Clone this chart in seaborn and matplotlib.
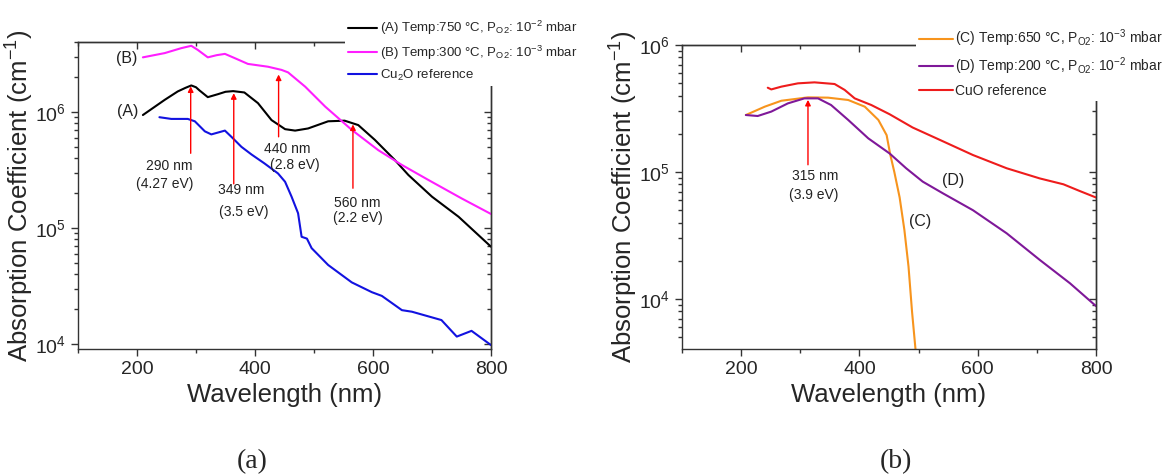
import numpy as np
import matplotlib
matplotlib.use("Agg")
import matplotlib.pyplot as plt
import seaborn as sns
from matplotlib.ticker import MultipleLocator, LogLocator, NullFormatter

# ---- panel (a): Cu2O films ----
wl_a = [210, 247, 269, 282, 292, 300, 306, 320, 337, 350, 363, 382, 405, 428, 451,
        468, 490, 524, 552, 575, 603, 637, 660, 700, 745, 800]
abs_a = [9.4e5, 1.27e6, 1.50e6, 1.61e6, 1.69e6, 1.63e6, 1.53e6, 1.34e6, 1.42e6,
         1.49e6, 1.51e6, 1.47e6, 1.19e6, 8.5e5, 7.1e5, 6.9e5, 7.2e5, 8.3e5, 8.4e5,
         7.7e5, 5.75e5, 3.85e5, 2.86e5, 1.86e5, 1.25e5, 6.9e4]

wl_b = [210, 247, 275, 292, 303, 320, 335, 349, 366, 388, 422, 445, 456, 485, 519,
        564, 609, 649, 694, 750, 800]
abs_b = [2.95e6, 3.21e6, 3.54e6, 3.71e6, 3.42e6, 2.95e6, 3.08e6, 3.16e6, 2.90e6,
         2.59e6, 2.45e6, 2.30e6, 2.19e6, 1.65e6, 1.11e6, 7.0e5, 4.68e5, 3.49e5,
         2.59e5, 1.80e5, 1.32e5]

wl_cu2o = [238, 258, 286, 298, 315, 326, 349, 360, 377, 394, 416, 439, 451, 462,
           473, 479, 488, 496, 524, 564, 598, 615, 649, 666, 716, 742, 767, 800]
abs_cu2o = [9.0e5, 8.7e5, 8.7e5, 8.3e5, 6.8e5, 6.4e5, 6.9e5, 6.1e5, 5.0e5, 4.3e5,
            3.6e5, 2.95e5, 2.5e5, 1.86e5, 1.34e5, 8.4e4, 8.1e4, 6.7e4, 4.8e4,
            3.4e4, 2.8e4, 2.6e4, 1.96e4, 1.9e4, 1.61e4, 1.16e4, 1.30e4, 9.8e3]

# ---- panel (b): CuO films ----
wl_c = [208, 240, 268, 313, 347, 381, 409, 432, 446, 452, 459, 468, 476, 483, 489, 496]
abs_c = [2.81e5, 3.27e5, 3.64e5, 3.87e5, 3.85e5, 3.69e5, 3.27e5, 2.57e5, 1.95e5,
         1.38e5, 1.0e5, 6.3e4, 3.5e4, 1.8e4, 7.9e3, 3.5e3]

wl_d = [208, 228, 251, 279, 307, 330, 352, 381, 415, 451, 479, 507, 541, 592,
        649, 705, 756, 800]
abs_d = [2.81e5, 2.76e5, 2.99e5, 3.47e5, 3.80e5, 3.80e5, 3.37e5, 2.57e5, 1.84e5,
         1.40e5, 1.07e5, 8.4e4, 6.8e4, 5.0e4, 3.29e4, 2.03e4, 1.33e4, 8.8e3]

wl_cuo = [245, 251, 268, 296, 324, 358, 375, 392, 420, 451, 490, 536, 592, 649,
          705, 745, 772, 800]
abs_cuo = [4.61e5, 4.47e5, 4.70e5, 4.99e5, 5.08e5, 4.93e5, 4.43e5, 3.80e5, 3.37e5,
           2.85e5, 2.24e5, 1.79e5, 1.36e5, 1.07e5, 8.9e4, 8.0e4, 7.1e4, 6.3e4]

# arrows: wavelength, tail, head
arr_a_x = [291, 364, 440, 566]
arr_a_tail = [4.4e5, 2.4e5, 6.1e5, 2.2e5]
arr_a_head = [1.66e6, 1.45e6, 2.1e6, 7.8e5]
txt_a = ["290 nm", "(4.27 eV)", "349 nm", "(3.5 eV)", "440 nm", "(2.8 eV)", "560 nm", "(2.2 eV)"]
txt_a_x = [255, 247, 377, 381, 454, 467, 574, 574]
txt_a_y = [3.42e5, 2.4e5, 2.14e5, 1.36e5, 4.8e5, 3.5e5, 1.63e5, 1.23e5]

arr_b_x = [313]
arr_b_tail = [1.14e5]
arr_b_head = [3.7e5]
txt_b = ["315 nm", "(3.9 eV)"]
txt_b_x = [326, 323]
txt_b_y = [9.3e4, 6.6e4]

sns.set_style("ticks")
plt.rcParams['font.family'] = ['Liberation Sans', 'DejaVu Sans']
plt.rcParams['mathtext.fontset'] = 'custom'
plt.rcParams['mathtext.rm'] = 'Liberation Sans'

fig = plt.figure(figsize=(11.72, 4.74), dpi=100)
ax1 = fig.add_axes([78 / 1172, 1 - 349 / 474, 413 / 1172, 307 / 474])
ax2 = fig.add_axes([682 / 1172, 1 - 349 / 474, 414 / 1172, 304 / 474])


def style_axes(ax, ylim):
    ax.set_yscale('log')
    ax.set_xlim(100, 800)
    ax.set_ylim(*ylim)
    ax.xaxis.set_major_locator(MultipleLocator(200))
    ax.xaxis.set_minor_locator(MultipleLocator(100))
    ax.yaxis.set_major_locator(LogLocator(base=10, numticks=10))
    ax.yaxis.set_minor_locator(LogLocator(base=10, subs=np.arange(2, 10), numticks=20))
    ax.yaxis.set_minor_formatter(NullFormatter())
    ax.tick_params(which='both', direction='out', labelsize=14, width=1, color='#333333')
    ax.tick_params(which='major', length=5)
    ax.tick_params(which='minor', length=3)
    for s in ax.spines.values():
        s.set_linewidth(1)
        s.set_color('#333333')
    ax.set_xlabel("Wavelength (nm)", fontsize=18.5, labelpad=4)
    ax.set_ylabel(r"Absorption Coefficient (cm$^{\mathregular{-1}}$)", fontsize=18.5, labelpad=0)
    top = ax.secondary_xaxis('top')
    top.xaxis.set_major_locator(MultipleLocator(200))
    top.xaxis.set_minor_locator(MultipleLocator(100))
    top.tick_params(which='both', direction='in', labeltop=False, width=1, color='#333333')
    top.tick_params(which='major', length=5)
    top.tick_params(which='minor', length=3)
    right = ax.secondary_yaxis('right')
    right.tick_params(which='both', direction='in', labelright=False, width=1, color='#333333')
    right.tick_params(which='major', length=5)
    right.tick_params(which='minor', length=3)
    for sec in (top, right):
        for s in sec.spines.values():
            s.set_linewidth(1)
            s.set_color('#333333')


style_axes(ax1, (9.07e3, 4.0e6))
style_axes(ax2, (4.04e3, 1.0e6))

lw = 1.5
sns.lineplot(x=wl_a, y=abs_a, ax=ax1, color='black', lw=lw, sort=False, estimator=None,
             label=r"(A) Temp:750 °C, P$_{\mathregular{O2}}$: 10$^{\mathregular{-2}}$ mbar")
sns.lineplot(x=wl_b, y=abs_b, ax=ax1, color='#FF1EFF', lw=lw, sort=False, estimator=None,
             label=r"(B) Temp:300 °C, P$_{\mathregular{O2}}$: 10$^{\mathregular{-3}}$ mbar")
sns.lineplot(x=wl_cu2o, y=abs_cu2o, ax=ax1, color='#1212E0', lw=lw, sort=False, estimator=None,
             label=r"Cu$_{\mathregular{2}}$O reference")

sns.lineplot(x=wl_c, y=abs_c, ax=ax2, color='#F7941D', lw=lw, sort=False, estimator=None,
             label=r"(C) Temp:650 °C, P$_{\mathregular{O2}}$: 10$^{\mathregular{-3}}$ mbar")
sns.lineplot(x=wl_d, y=abs_d, ax=ax2, color='#7F1899', lw=lw, sort=False, estimator=None,
             label=r"(D) Temp:200 °C, P$_{\mathregular{O2}}$: 10$^{\mathregular{-2}}$ mbar")
sns.lineplot(x=wl_cuo, y=abs_cuo, ax=ax2, color='#EE1C1C', lw=lw, sort=False, estimator=None,
             label="CuO reference")

for ax, xs, tails, heads in ((ax1, arr_a_x, arr_a_tail, arr_a_head),
                             (ax2, arr_b_x, arr_b_tail, arr_b_head)):
    for x, t, h in zip(xs, tails, heads):
        ax.annotate("", xy=(x, h), xytext=(x, t),
                    arrowprops=dict(arrowstyle='-|>', color='red', lw=1.0,
                                    mutation_scale=8, shrinkA=0, shrinkB=0))

for ax, ts, xs, ys in ((ax1, txt_a, txt_a_x, txt_a_y), (ax2, txt_b, txt_b_x, txt_b_y)):
    for t, x, y in zip(ts, xs, ys):
        ax.text(x, y, t, ha='center', va='center', fontsize=10, color='#222222')

ax1.text(182, 2.9e6, "(B)", ha='center', va='center', fontsize=11.5, color='#222222')
ax1.text(185, 1.0e6, "(A)", ha='center', va='center', fontsize=11.5, color='#222222')
ax2.text(559, 8.6e4, "(D)", ha='center', va='center', fontsize=11.5, color='#222222')
ax2.text(503, 4.1e4, "(C)", ha='center', va='center', fontsize=11.5, color='#222222')

leg_kw = dict(loc='upper left', frameon=True, facecolor='white', edgecolor='none',
              framealpha=1, fancybox=False, handletextpad=0.2, borderpad=0.25,
              labelspacing=0.45, borderaxespad=0)
ax1.legend(bbox_to_anchor=(0.646, 1.085), fontsize=9.5, handlelength=2.2, **leg_kw)
ax2.legend(bbox_to_anchor=(0.565, 1.068), fontsize=10, handlelength=2.4, **leg_kw)

fig.text(252 / 1172, 1 - 462 / 474, "(a)", family=['Liberation Serif'], fontsize=20,
         ha='center', va='center')
fig.text(896 / 1172, 1 - 462 / 474, "(b)", family=['Liberation Serif'], fontsize=20,
         ha='center', va='center')

fig.savefig("out.png", dpi=100)
